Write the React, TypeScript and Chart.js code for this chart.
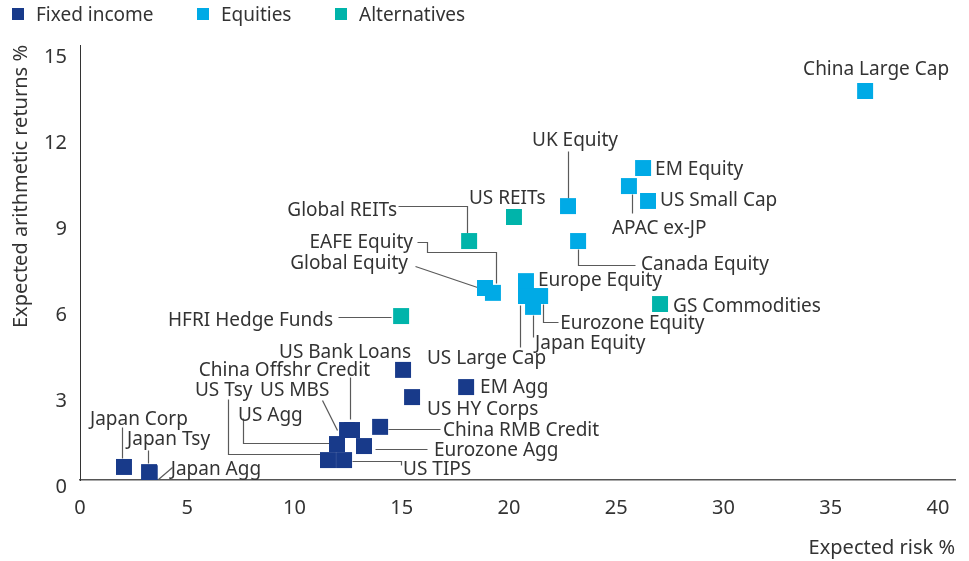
import React, { useEffect, useRef } from "react";
import { Chart, registerables } from "chart.js";

Chart.register(...registerables);

// ---------- Data ----------
const seriesNames = ["Fixed income", "Equities", "Alternatives"];

const fixedIncomeNames = [
  "Japan Corp", "Japan Tsy", "Japan Agg", "US Tsy", "US TIPS", "US Agg", "US MBS",
  "China Offshr Credit", "Eurozone Agg", "China RMB Credit", "US Bank Loans", "US HY Corps", "EM Agg",
];
const fixedIncomeRisk = [2.05, 3.22, 3.25, 11.56, 12.31, 11.98, 12.45, 12.68, 13.24, 13.99, 15.06, 15.48, 18.0];
const fixedIncomeReturn = [0.7, 0.52, 0.48, 0.94, 0.94, 1.5, 1.99, 1.99, 1.43, 2.1, 4.09, 3.14, 3.49];

const equityNames = [
  "China Large Cap", "UK Equity", "EM Equity", "APAC ex-JP", "US Small Cap", "Canada Equity",
  "Global Equity", "EAFE Equity", "Europe Equity", "US Large Cap", "Eurozone Equity", "Japan Equity",
];
const equityRisk = [36.6, 22.75, 26.25, 25.59, 26.48, 23.22, 18.88, 19.25, 20.79, 20.79, 21.45, 21.12];
const equityReturn = [13.83, 9.81, 11.14, 10.51, 9.99, 8.59, 6.95, 6.78, 7.19, 6.67, 6.67, 6.29];

const altNames = ["HFRI Hedge Funds", "Global REITs", "US REITs", "GS Commodities"];
const altRisk = [14.97, 18.14, 20.23, 27.04];
const altReturn = [5.97, 8.59, 9.43, 6.39];

const xTickValues = [0, 5, 10, 15, 20, 25, 30, 35, 40];
const yTickValues = [0, 3, 6, 9, 12, 15];

const xTitle = "Expected risk %";
const yTitle = "Expected arithmetic returns %";

// ---------- Styling / layout ----------
const seriesColors = ["#183A8A", "#00AAE6", "#00B4AA"];
const TEXT = "#333333";
const LABEL_FONT = '19px "Noto Sans", sans-serif';
const AXIS_FONT = { family: '"Noto Sans", sans-serif', size: 20 };

type Layout = { dx: number; dy: number; align: "left" | "right"; leader?: [number, number][] };

// label offsets (pixels) relative to each marker centre
const labelLayout: Record<string, Layout> = {
  "China Large Cap": { dx: -62, dy: -23, align: "left" },
  "UK Equity": { dx: -36, dy: -67, align: "left", leader: [[0, -55], [0, -8]] },
  "EM Equity": { dx: 12, dy: 0, align: "left" },
  "US Small Cap": { dx: 12, dy: -2, align: "left" },
  "APAC ex-JP": { dx: -17, dy: 41, align: "left", leader: [[3, 8], [3, 27]] },
  "US REITs": { dx: -45, dy: -20, align: "left" },
  "Global REITs": { dx: -72, dy: -32, align: "right", leader: [[-71, -35], [-2, -35], [-2, -8]] },
  "Global Equity": { dx: -77, dy: -26, align: "right", leader: [[-70, -22], [-8, -1]] },
  "EAFE Equity": { dx: -80, dy: -52, align: "right", leader: [[-76, -51], [-66, -51], [-66, -41], [3, -41], [3, -10]] },
  "Europe Equity": { dx: 12, dy: -2, align: "left" },
  "US Large Cap": { dx: -99, dy: 61, align: "left", leader: [[-6, 9], [-6, 51]] },
  "Eurozone Equity": { dx: 20, dy: 26, align: "left", leader: [[3, 8], [3, 26], [18, 26]] },
  "Japan Equity": { dx: 2, dy: 35, align: "left", leader: [[0, 8], [0, 30]] },
  "Canada Equity": { dx: 63, dy: 22, align: "left", leader: [[0, 8], [0, 24], [57, 24]] },
  "GS Commodities": { dx: 13, dy: 1, align: "left" },
  "HFRI Hedge Funds": { dx: -68, dy: 3, align: "right", leader: [[-63, 1], [-10, 1]] },
  "US Bank Loans": { dx: 8, dy: -19, align: "right" },
  "China Offshr Credit": { dx: 18, dy: -61, align: "right", leader: [[-2, -53], [-2, -11]] },
  "US MBS": { dx: -87, dy: -41, align: "left", leader: [[-25, -30], [-10, 0]] },
  "US Tsy": { dx: -133, dy: -71, align: "left", leader: [[-100, -61], [-100, -6], [-8, -6]] },
  "US Agg": { dx: -99, dy: -30, align: "left", leader: [[-94, -26], [-94, -1], [-8, -1]] },
  "US TIPS": { dx: 59, dy: 8, align: "left", leader: [[8, 1], [57, 1], [57, 5]] },
  "Eurozone Agg": { dx: 70, dy: 3, align: "left", leader: [[11, 3], [63, 3]] },
  "China RMB Credit": { dx: 63, dy: 2, align: "left", leader: [[8, 2], [60, 2]] },
  "US HY Corps": { dx: 15, dy: 11, align: "left" },
  "EM Agg": { dx: 14, dy: -1, align: "left" },
  "Japan Corp": { dx: -34, dy: -49, align: "left", leader: [[-2, -40], [-2, -9]] },
  "Japan Tsy": { dx: -22, dy: -34, align: "left", leader: [[-1, -22], [-1, -9]] },
  "Japan Agg": { dx: 21, dy: -5, align: "left", leader: [[8, 6], [22, -6]] },
};

const namesBySeries = [fixedIncomeNames, equityNames, altNames];

const toPoints = (xs: number[], ys: number[]) => xs.map((x, i) => ({ x, y: ys[i] }));

const labelPlugin = {
  id: "pointLabels",
  beforeDatasetsDraw(chart: any) {
    const ctx = chart.ctx;
    ctx.save();
    ctx.strokeStyle = "#5a5a5a";
    ctx.lineWidth = 1.2;
    chart.data.datasets.forEach((_ds: any, i: number) => {
      const meta = chart.getDatasetMeta(i);
      meta.data.forEach((el: any, j: number) => {
        const lay = labelLayout[namesBySeries[i][j]];
        if (!lay || !lay.leader) return;
        ctx.beginPath();
        lay.leader.forEach(([lx, ly], k) => {
          const px = Math.round(el.x + lx) + 0.5;
          const py = Math.round(el.y + ly) + 0.5;
          if (k === 0) ctx.moveTo(px, py);
          else ctx.lineTo(px, py);
        });
        ctx.stroke();
      });
    });
    ctx.restore();
  },
  afterDatasetsDraw(chart: any) {
    const ctx = chart.ctx;
    ctx.save();
    ctx.font = LABEL_FONT;
    ctx.fillStyle = TEXT;
    ctx.textBaseline = "alphabetic";
    chart.data.datasets.forEach((_ds: any, i: number) => {
      const meta = chart.getDatasetMeta(i);
      meta.data.forEach((el: any, j: number) => {
        const name = namesBySeries[i][j];
        const lay = labelLayout[name];
        if (!lay) return;
        ctx.textAlign = lay.align;
        ctx.fillText(name, el.x + lay.dx, el.y + lay.dy + 7);
      });
    });
    ctx.restore();
  },
  afterDraw(chart: any) {
    // legend
    const ctx = chart.ctx;
    const starts = [12, 197, 335];
    ctx.save();
    ctx.font = LABEL_FONT;
    ctx.textBaseline = "alphabetic";
    ctx.textAlign = "left";
    seriesNames.forEach((n, i) => {
      ctx.fillStyle = seriesColors[i];
      ctx.fillRect(starts[i], 8, 12, 12);
      ctx.fillStyle = TEXT;
      ctx.fillText(n, starts[i] + 24, 21);
    });
    ctx.restore();
  },
};

export default function App() {
  const canvasRef = useRef<HTMLCanvasElement | null>(null);

  useEffect(() => {
    const canvas = canvasRef.current;
    if (!canvas) return;
    const ds = (label: string, pts: any[], color: string) => ({
      label,
      data: pts,
      backgroundColor: color,
      borderColor: color,
      borderWidth: 0,
      pointStyle: "rect",
      pointRadius: 11.3,
      pointHoverRadius: 11.3,
    });
    const chart = new Chart(canvas, {
      type: "scatter",
      data: {
        datasets: [
          ds(seriesNames[0], toPoints(fixedIncomeRisk, fixedIncomeReturn), seriesColors[0]),
          ds(seriesNames[1], toPoints(equityRisk, equityReturn), seriesColors[1]),
          ds(seriesNames[2], toPoints(altRisk, altReturn), seriesColors[2]),
        ],
      },
      options: {
        animation: false,
        responsive: false,
        devicePixelRatio: 1,
        events: [],
        layout: { padding: { top: 45, right: 14, left: 0, bottom: 0 } },
        plugins: { legend: { display: false }, tooltip: { enabled: false } },
        scales: {
          x: {
            type: "linear",
            position: "bottom",
            min: 0,
            max: 40.79,
            grid: { display: false, drawTicks: false },
            border: { display: true, color: "#555555", width: 1.5 },
            afterBuildTicks: (s: any) => {
              s.ticks = xTickValues.map((v) => ({ value: v }));
            },
            afterFit: (s: any) => {
              s.height = 81;
            },
            ticks: {
              autoSkip: false,
              maxRotation: 0,
              padding: 16,
              color: TEXT,
              font: AXIS_FONT,
              callback: (v: any) => String(v),
            },
            title: {
              display: true,
              text: xTitle,
              align: "end",
              color: TEXT,
              font: AXIS_FONT,
              padding: { top: 0, bottom: 1 },
            },
          },
          y: {
            type: "linear",
            min: 0.2445,
            max: 15.437,
            grid: { display: false, drawTicks: false },
            border: { display: true, color: "#333333", width: 1 },
            afterBuildTicks: (s: any) => {
              s.ticks = yTickValues.map((v) => ({ value: v }));
            },
            afterFit: (s: any) => {
              s.width = 80;
            },
            ticks: {
              autoSkip: false,
              padding: 13,
              color: TEXT,
              font: AXIS_FONT,
              callback: (v: any) => String(v),
            },
            title: {
              display: true,
              text: yTitle,
              align: "end",
              color: TEXT,
              font: AXIS_FONT,
              padding: { top: 9, bottom: 0 },
            },
          },
        },
      } as any,
      plugins: [labelPlugin],
    });
    return () => chart.destroy();
  }, []);

  return (
    <div style={{ position: "absolute", left: 0, top: 0, width: 969, height: 561, background: "#ffffff" }}>
      <canvas ref={canvasRef} width={969} height={561} style={{ width: 969, height: 561, display: "block" }} />
    </div>
  );
}
